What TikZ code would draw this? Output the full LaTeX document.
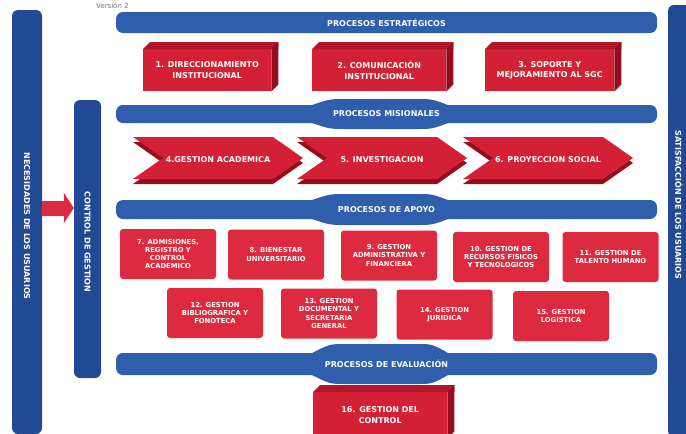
\documentclass[tikz,border=0pt]{standalone}
\usepackage{fontspec}
\setmainfont{DejaVu Sans}
\usetikzlibrary{shapes, arrows.meta, positioning, calc}

\definecolor{bandblue}{RGB}{46,94,172}
\definecolor{barblue}{RGB}{34,74,148}
\definecolor{flatred}{RGB}{222,42,62}
\definecolor{cubered}{RGB}{212,32,52}
\definecolor{topred}{RGB}{178,22,40}
\definecolor{sidered}{RGB}{146,14,30}
\definecolor{chevdark}{RGB}{150,14,30}

\begin{document}
\begin{tikzpicture}[x=1pt,y=1pt,yscale=-1,
	band/.style={fill=bandblue, rounded corners=7pt, text=white, inner sep=0pt, minimum width=541, font=\fontsize{8}{9}\selectfont\bfseries},
	bar/.style={fill=barblue, rounded corners=6pt, inner sep=0pt},
	bartext/.style={text=white, rotate=-90, inner sep=0.75pt, font=\fontsize{8}{9}\selectfont\bfseries},
	cubeface/.style={fill=cubered, text=white, inner sep=0pt, align=center, anchor=north west, minimum height=42, font=\fontsize{8}{10.5}\selectfont\bfseries},
	apoyobox/.style={fill=flatred, rounded corners=3pt, text=white, inner sep=0pt, align=center, minimum width=96, minimum height=50, font=\fontsize{6.8}{8.3}\selectfont\bfseries},
	chevtext/.style={text=white, inner sep=0.75pt, font=\fontsize{8}{9}\selectfont\bfseries},
	redarrow/.style={draw=flatred, line width=15pt, -{Triangle[length=10pt,width=30pt]}}
	]
	\useasboundingbox (0,0) rectangle (686,434);
	\clip (0,0) rectangle (686,434);
	
	% Text Node
	\node [anchor=west, text=black!55, inner sep=0pt, font=\fontsize{7}{8}\selectfont] (ver) at (96,5.5) {Versión 2};
	
	%Shape: Side bars
	\node [bar, minimum width=30, minimum height=424] (nec) at (27,222) {};
	\node [bartext] (necT) at (27,226) {NECESIDADES DE LOS USUARIOS};
	\node [bar, minimum width=27, minimum height=278] (ctrl) at (87.5,239) {};
	\node [bartext] (ctrlT) at (87.5,242) {CONTROL DE GESTION};
	\node [bar, minimum width=28, minimum height=432] (sat) at (682,221) {};
	\node [bartext] (satT) at (679,205) {SATISFACCIÓN DE LOS USUARIOS};
	
	%Straight Lines: red arrow
	\coordinate (arr) at (0,208);
	\draw [redarrow] (nec.east |- arr) -- (ctrl.west |- arr);
	
	%Shape: flat lens behind the band titles (centre y / half band / overhang)
	\foreach \yb/\hh/\ov in {114/9/6, 209.5/9.5/6, 364/11/9} {
		\fill [bandblue] (312,\yb-\hh) .. controls (330,\yb-\hh-\ov) .. (346,\yb-\hh-\ov) -- (416,\yb-\hh-\ov) .. controls (432,\yb-\hh-\ov) .. (448,\yb-\hh)
			-- (448,\yb+\hh) .. controls (432,\yb+\hh+\ov) .. (416,\yb+\hh+\ov) -- (346,\yb+\hh+\ov) .. controls (330,\yb+\hh+\ov) .. (312,\yb+\hh) -- cycle;
	}
	
	%Shape: Bands
	\node [band, minimum height=21] (estr) at (386.5,22.5) {PROCESOS ESTRATÉGICOS};
	\node [band, minimum height=18] (mis) at (386.5,114) {PROCESOS MISIONALES};
	\node [band, minimum height=19] (apo) at (386.5,209.5) {PROCESOS DE APOYO};
	\node [band, minimum height=22] (eva) at (386.5,364) {PROCESOS DE EVALUACIÓN};
	
	%Shape: strategic boxes
	\node [cubeface, minimum width=128] (dir) at (143,49) {1. DIRECCIONAMIENTO\\INSTITUCIONAL};
	\node [cubeface, minimum width=134] (com) at (312,49) {2. COMUNICACIÓN\\INSTITUCIONAL};
	\node [cubeface, minimum width=129] (sop) at (485,49) {3. SOPORTE Y\\MEJORAMIENTO AL SGC};
	\node [cubeface, minimum width=134, minimum height=46] (gcon) at (313,392) {16. GESTION DEL\\CONTROL};
	\foreach \n in {dir,com,sop,gcon} {
		\fill [topred] (\n.north west) -- ++(7,-7) -| ($(\n.north east)+(7,0)$) -- (\n.north east) -- cycle;
		\fill [sidered] (\n.north east) -- ++(7,-7) -- ($(\n.south east)+(7,-7)$) -- (\n.south east) -- cycle;
	}
	
	%Shape: chevrons
	\foreach \cx in {133,297,463} {
		\fill [chevdark] (\cx,142) -- (\cx+140,142) -- (\cx+170,163) -- (\cx+140,184) -- (\cx,184) -- (\cx+30,163) -- cycle;
		\fill [cubered] (\cx,137) -- (\cx+140,137) -- (\cx+170,158) -- (\cx+140,179) -- (\cx,179) -- (\cx+30,158) -- cycle;
	}
	% Text Node
	\node [chevtext] (acad) at (218,160) {4.GESTION ACADEMICA};
	\node [chevtext] (inv) at (382,160) {5. INVESTIGACION};
	\node [chevtext] (proy) at (548,160) {6. PROYECCION SOCIAL};
	
	%Shape: support boxes
	\node [apoyobox] (adm) at (168,254) {7. ADMISIONES,\\REGISTRO Y\\CONTROL\\ACADEMICO};
	\node [apoyobox] (bien) at (276,254.5) {8. BIENESTAR\\UNIVERSITARIO};
	\node [apoyobox] (admf) at (389,255.5) {9. GESTION\\ADMINISTRATIVA Y\\FINANCIERA};
	\node [apoyobox] (rec) at (501,257) {10. GESTION DE\\RECURSOS FISICOS\\Y TECNOLOGICOS};
	\node [apoyobox] (tal) at (610.5,257) {11. GESTION DE\\TALENTO HUMANO};
	\node [apoyobox] (bib) at (215,313) {12. GESTION\\BIBLIOGRAFICA Y\\FONOTECA};
	\node [apoyobox] (doc) at (329,313.5) {13. GESTION\\DOCUMENTAL Y\\SECRETARIA\\GENERAL};
	\node [apoyobox] (jur) at (444.5,314.5) {14. GESTION\\JURIDICA};
	\node [apoyobox] (log) at (561,316) {15. GESTION\\LOGISTICA};
	
\end{tikzpicture}
\end{document}
